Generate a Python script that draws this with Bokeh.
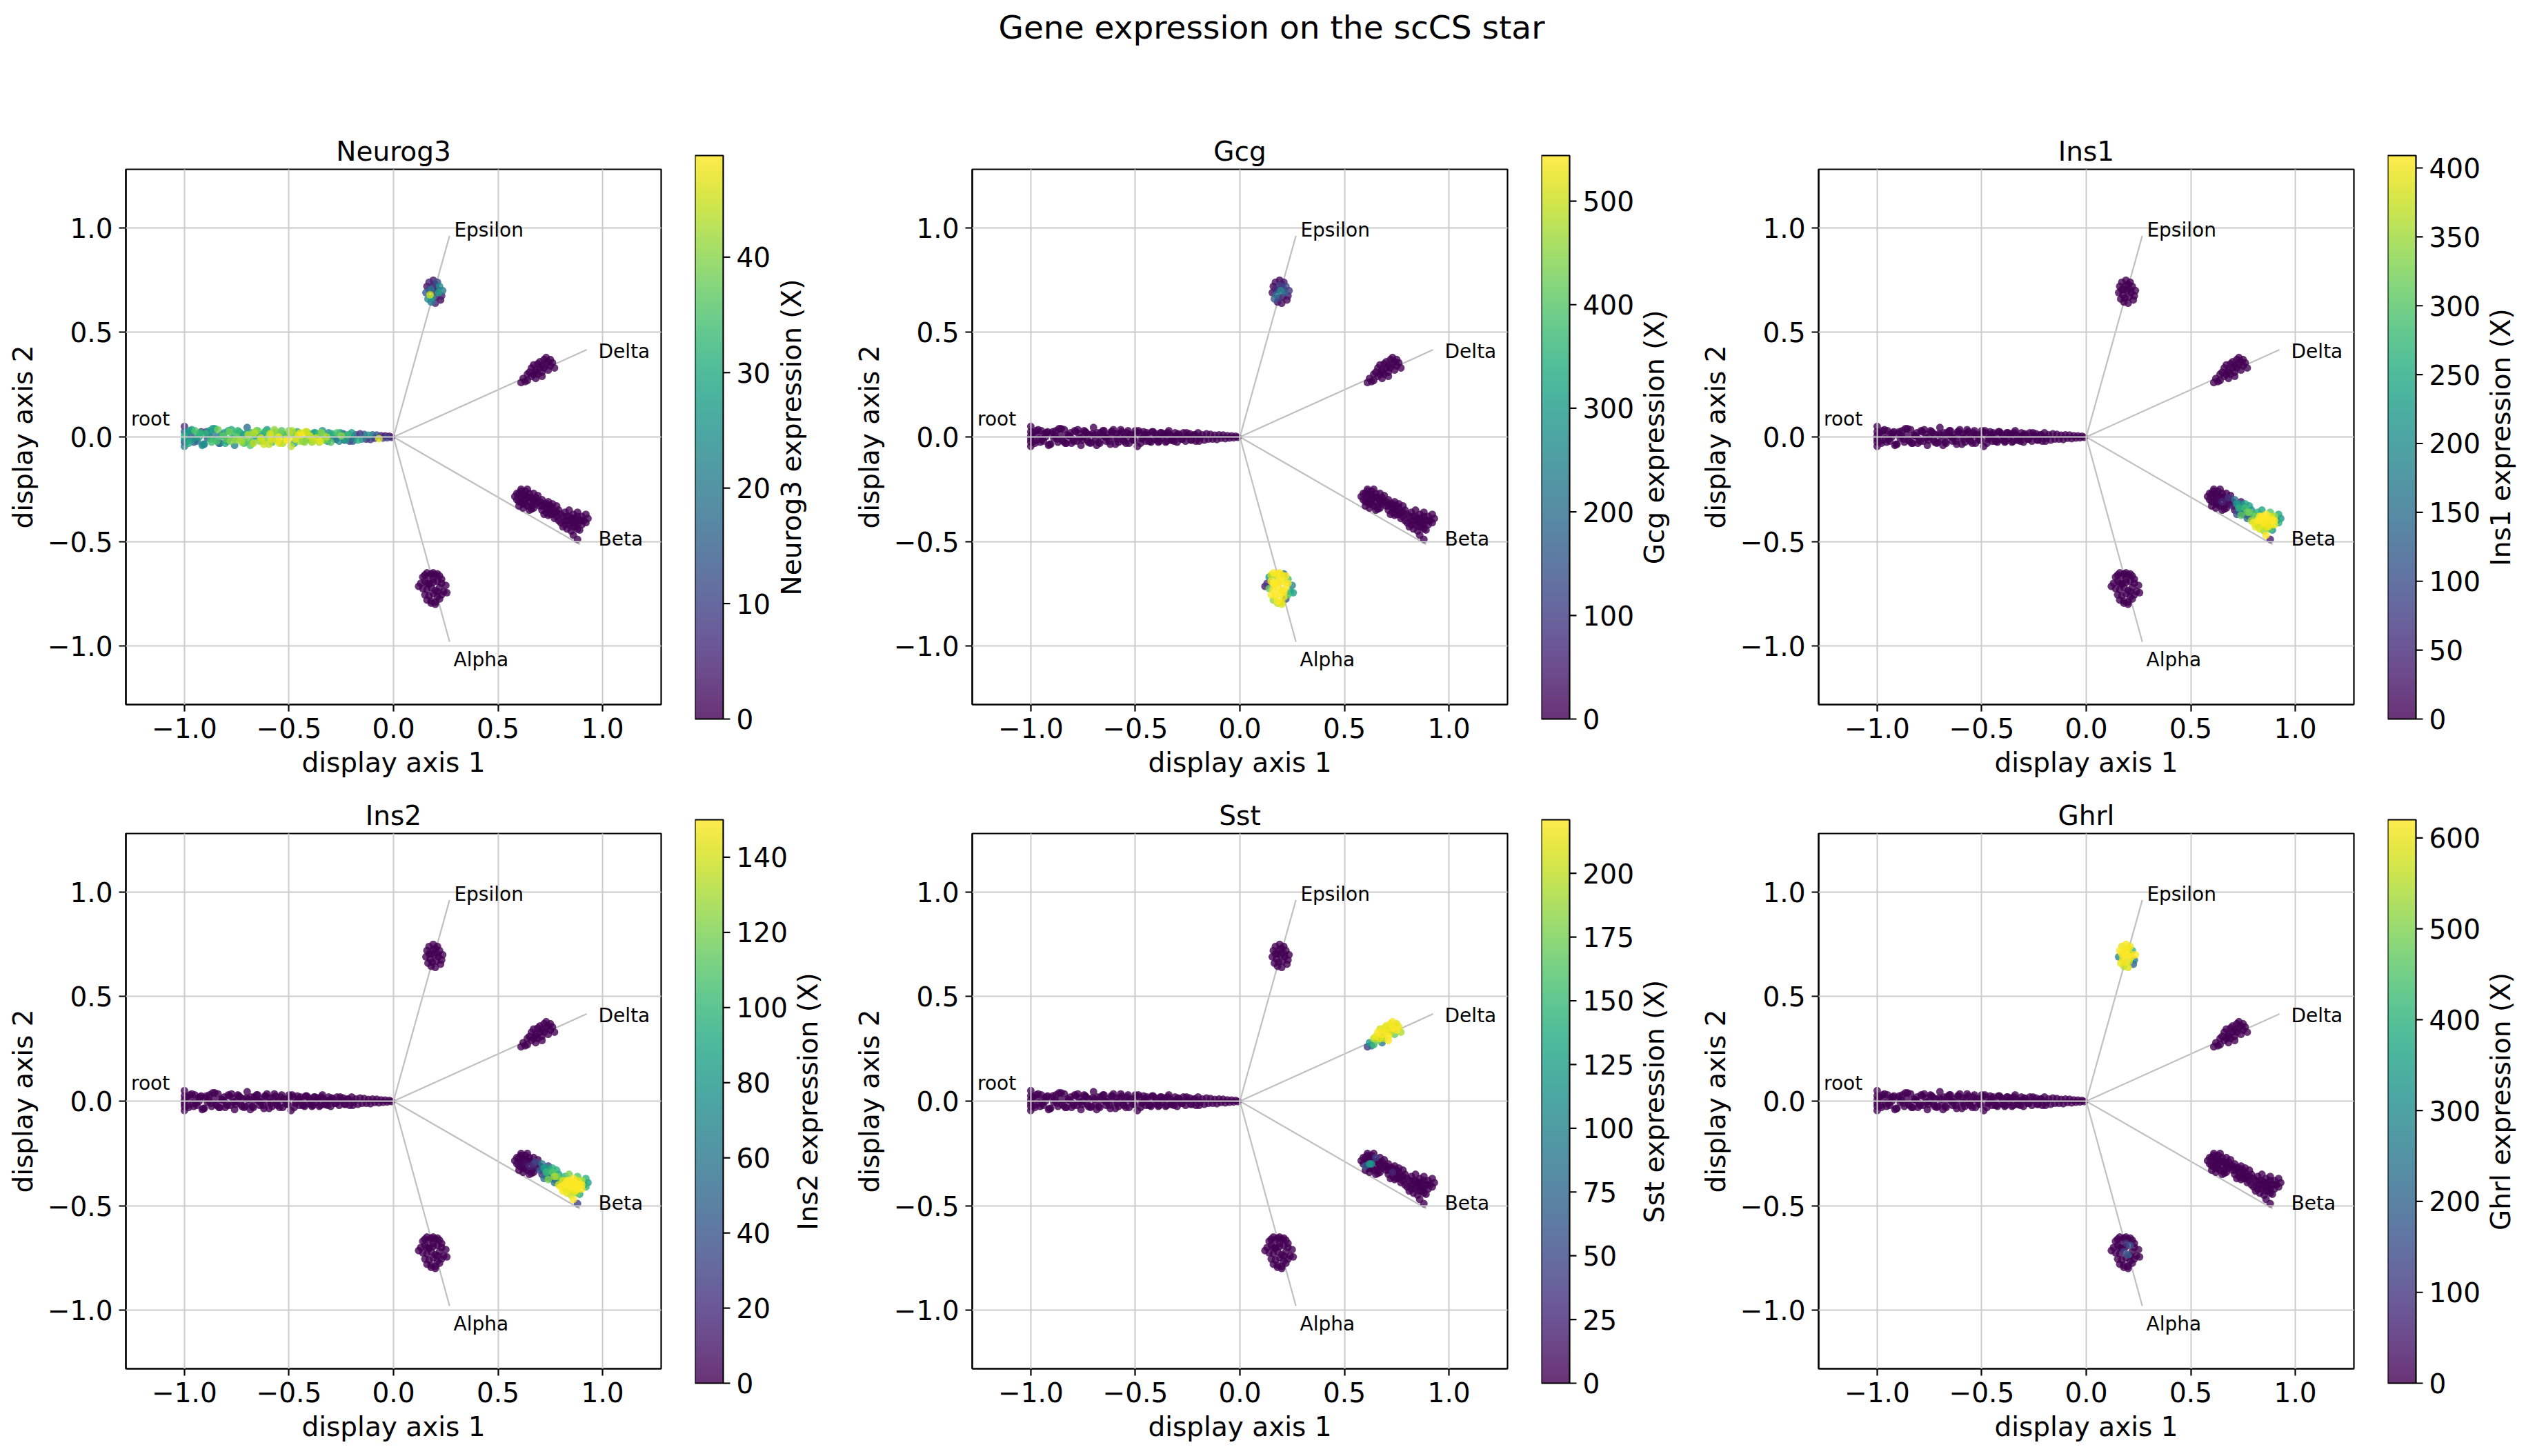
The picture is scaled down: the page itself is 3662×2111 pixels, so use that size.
import math
import numpy as np
from bokeh.core.properties import value
from bokeh.embed import file_html
from bokeh.layouts import column, row
from bokeh.models import (ColumnDataSource, CustomJSTickFormatter, FixedTicker,
                          Label, LinearColorMapper, Range1d)
from bokeh.palettes import Viridis256
from bokeh.plotting import figure
from bokeh.resources import INLINE

FONT = "DejaVu Sans"

# ---------------------------------------------------------------- cell layout
# root branch: a column of cells at -1, the main band, and two offset bands
ROOT_X = [
    -1.00, -1.00, -1.00, -1.00, -1.00, -1.00,
    -0.99, -0.98, -0.97, -0.96, -0.95, -0.94, -0.93, -0.92, -0.91, -0.90,
    -0.89, -0.88, -0.87, -0.86, -0.85, -0.84, -0.83, -0.82, -0.81, -0.80,
    -0.79, -0.78, -0.77, -0.76, -0.75, -0.74, -0.73, -0.72, -0.71, -0.70,
    -0.69, -0.68, -0.67, -0.66, -0.65, -0.64, -0.63, -0.62, -0.61, -0.60,
    -0.59, -0.58, -0.57, -0.56, -0.55, -0.54, -0.53, -0.52, -0.51, -0.50,
    -0.49, -0.48, -0.47, -0.46, -0.45, -0.44, -0.43, -0.42, -0.41, -0.40,
    -0.39, -0.38, -0.37, -0.36, -0.35, -0.34, -0.33, -0.32, -0.31, -0.30,
    -0.29, -0.28, -0.27, -0.26, -0.25, -0.24, -0.23, -0.22, -0.21, -0.20,
    -0.19, -0.18, -0.17, -0.16, -0.15, -0.14, -0.13, -0.12, -0.11, -0.10,
    -0.09, -0.08, -0.07, -0.06, -0.05, -0.04, -0.03, -0.02, -0.01,
    -0.985, -0.965, -0.945, -0.925, -0.905, -0.885, -0.865, -0.845, -0.825, -0.805,
    -0.785, -0.765, -0.745, -0.725, -0.705, -0.685, -0.665, -0.645, -0.625, -0.605,
    -0.585, -0.565, -0.545, -0.525, -0.505, -0.485, -0.465, -0.445, -0.425, -0.405,
    -0.385, -0.365, -0.345, -0.325, -0.305,
    -0.975, -0.955, -0.935, -0.915, -0.895, -0.875, -0.855, -0.835, -0.815, -0.795,
    -0.775, -0.755, -0.735, -0.715, -0.695, -0.675, -0.655, -0.635, -0.615, -0.595,
    -0.575, -0.555, -0.535, -0.515, -0.495, -0.475, -0.455, -0.435, -0.415, -0.395,
    -0.375, -0.355, -0.335, -0.315, -0.295, -0.275, -0.255, -0.235, -0.215, -0.195,
]
ROOT_Y = [
    -0.045, -0.025, -0.01, 0.005, 0.025, 0.05,
    0.02, -0.03, 0.01, -0.01, 0.03, -0.02, 0.00, 0.025, -0.035, 0.015,
    -0.005, 0.03, -0.025, 0.01, -0.015, 0.035, -0.03, 0.005, 0.02, -0.01,
    0.03, -0.02, 0.015, -0.04, 0.0, 0.025, -0.015, 0.01, -0.025, 0.045,
    -0.01, 0.02, -0.03, 0.005, 0.03, -0.02, 0.01, -0.035, 0.025, -0.005,
    0.015, -0.025, 0.035, -0.01, 0.0, 0.02, -0.03, 0.01, -0.015, 0.03,
    -0.045, 0.02, -0.01, 0.025, -0.02,
    0.01, -0.02, 0.025, -0.01, 0.005, -0.025, 0.02, -0.005, 0.015, -0.02,
    0.03, -0.015, 0.0, 0.02, -0.025, 0.01, -0.01, 0.02, -0.02, 0.005,
    0.015, -0.015, 0.01, -0.02, 0.02, -0.005, 0.01, -0.015, 0.015, -0.01,
    0.012, -0.01, 0.008, -0.012, 0.01, -0.006, 0.009, -0.008, 0.006, -0.005,
    0.005, -0.004, 0.003, -0.002,
    -0.02, 0.035, -0.01, 0.02, -0.035, 0.005, 0.04, -0.02, 0.01, -0.03,
    0.025, -0.005, 0.03, -0.025, 0.015, -0.04, 0.02, 0.0, -0.02, 0.035,
    -0.01, 0.025, -0.03, 0.01, -0.015, 0.03, -0.005, 0.02, -0.025, 0.015,
    -0.02, 0.01, 0.02, -0.015, 0.005,
    0.03, -0.025, 0.015, -0.04, 0.025, -0.01, 0.04, -0.03, 0.005, -0.02,
    0.035, -0.015, 0.02, -0.03, 0.01, -0.025, 0.03, -0.005, 0.025, -0.035,
    0.015, -0.02, 0.03, -0.01, 0.02, -0.03, 0.01, -0.02, 0.025, -0.015,
    0.02, -0.025, 0.01, -0.02, 0.015, -0.01, 0.02, -0.015, 0.01, -0.02,
]

EPS_X = [0.16, 0.17, 0.18, 0.19, 0.20, 0.21, 0.22, 0.235, 0.155, 0.175, 0.195,
         0.215, 0.23, 0.165, 0.185, 0.205, 0.225, 0.17, 0.19, 0.21, 0.18, 0.20]
EPS_Y = [0.72, 0.74, 0.705, 0.75, 0.73, 0.74, 0.72, 0.70, 0.69, 0.68, 0.70,
         0.69, 0.675, 0.66, 0.665, 0.67, 0.655, 0.705, 0.725, 0.705, 0.645, 0.64]

DELTA_X = [0.61, 0.62, 0.63, 0.64, 0.64, 0.65, 0.66, 0.66, 0.67, 0.67,
           0.68, 0.68, 0.69, 0.69, 0.70, 0.70, 0.71, 0.71, 0.72, 0.72,
           0.73, 0.73, 0.74, 0.74, 0.75, 0.75, 0.76, 0.77, 0.68, 0.71]
DELTA_Y = [0.26, 0.28, 0.265, 0.30, 0.27, 0.31, 0.29, 0.33, 0.30, 0.345,
           0.28, 0.32, 0.35, 0.30, 0.33, 0.36, 0.31, 0.34, 0.37, 0.33,
           0.35, 0.38, 0.36, 0.32, 0.37, 0.34, 0.355, 0.33, 0.31, 0.29]

# beta cells: upper-left blob, middle, lower-right blob, then extra fill cells
BETA_X = [
    0.58, 0.59, 0.60, 0.60, 0.61, 0.61, 0.62, 0.62, 0.63, 0.63, 0.64, 0.64, 0.65,
    0.65, 0.66, 0.66, 0.67, 0.67, 0.68, 0.68, 0.69, 0.62, 0.60, 0.64, 0.66,
    0.70, 0.71, 0.71, 0.72, 0.73, 0.73, 0.74, 0.74, 0.75, 0.75,
    0.76, 0.76, 0.77, 0.77, 0.78, 0.78, 0.79, 0.79, 0.80, 0.72,
    0.80, 0.81, 0.81, 0.82, 0.82, 0.83, 0.83, 0.84, 0.84, 0.85, 0.85, 0.86, 0.86,
    0.87, 0.87, 0.88, 0.88, 0.89, 0.89, 0.90, 0.90, 0.91, 0.92, 0.86, 0.88,
    0.59, 0.61, 0.63, 0.63, 0.65, 0.65, 0.67, 0.69, 0.70, 0.61, 0.67, 0.62,
    0.73, 0.75, 0.76, 0.78, 0.74, 0.71,
    0.83, 0.85, 0.86, 0.87, 0.88, 0.84, 0.86, 0.88, 0.90, 0.92, 0.93, 0.82,
]
BETA_Y = [
    -0.285, -0.30, -0.27, -0.31, -0.29, -0.25, -0.32, -0.28, -0.26, -0.30, -0.33, -0.285, -0.27,
    -0.31, -0.29, -0.33, -0.30, -0.27, -0.32, -0.29, -0.31, -0.34, -0.33, -0.25, -0.345,
    -0.33, -0.30, -0.35, -0.32, -0.36, -0.34, -0.31, -0.375, -0.35, -0.33,
    -0.37, -0.34, -0.39, -0.36, -0.33, -0.38, -0.35, -0.40, -0.37, -0.37,
    -0.41, -0.38, -0.43, -0.36, -0.40, -0.44, -0.38, -0.42, -0.35, -0.39, -0.45, -0.37, -0.41,
    -0.43, -0.39, -0.36, -0.42, -0.40, -0.445, -0.38, -0.42, -0.40, -0.37, -0.47, -0.49,
    -0.27, -0.31, -0.28, -0.32, -0.29, -0.35, -0.31, -0.28, -0.31, -0.26, -0.34, -0.30,
    -0.32, -0.37, -0.32, -0.36, -0.34, -0.33,
    -0.40, -0.41, -0.39, -0.41, -0.38, -0.38, -0.43, -0.44, -0.40, -0.41, -0.39, -0.42,
]

ALPHA_X = [0.14, 0.15, 0.16, 0.17, 0.18, 0.19, 0.20, 0.21, 0.22, 0.23,
           0.13, 0.15, 0.17, 0.19, 0.21, 0.23, 0.25, 0.14, 0.16, 0.18,
           0.20, 0.22, 0.24, 0.15, 0.17, 0.19, 0.21, 0.23, 0.16, 0.18,
           0.20, 0.22, 0.17, 0.19, 0.21, 0.12, 0.255, 0.18, 0.20, 0.16]
ALPHA_Y = [-0.67, -0.66, -0.65, -0.665, -0.655, -0.65, -0.66, -0.655, -0.665, -0.68,
           -0.70, -0.69, -0.70, -0.695, -0.69, -0.70, -0.71, -0.725, -0.73, -0.72,
           -0.735, -0.72, -0.74, -0.755, -0.76, -0.75, -0.765, -0.755, -0.78, -0.785,
           -0.79, -0.775, -0.705, -0.68, -0.74, -0.715, -0.745, -0.795, -0.80, -0.70]

# ---------------------------------------------------------------- star edges
BRANCH_NAMES = ["root", "Epsilon", "Delta", "Beta", "Alpha"]
EDGE_START_X = [0.0, 0.0, 0.0, 0.0, 0.0]
EDGE_START_Y = [0.0, 0.0, 0.0, 0.0, 0.0]
EDGE_END_X = [-1.0, 0.268, 0.924, 0.891, 0.268]
EDGE_END_Y = [0.0, 0.962, 0.417, -0.514, -0.98]
NAME_X = [-1.255, 0.29, 0.98, 0.98, 0.287]
NAME_Y = [0.086, 0.99, 0.41, -0.489, -1.066]

# ---------------------------------------------------------------- expression
NEUROG3_ROOT = [
    20, 10, 25, 30, 15, 5,
    22, 30, 12, 26, 35, 18, 28, 8, 24, 32,
    15, 27, 34, 20, 29, 38, 10, 31, 25, 36,
    28, 40, 33, 22, 37, 30, 42, 26, 35, 18,
    38, 31, 44, 27, 36, 40, 24, 45, 33, 39,
    46, 35, 41, 29, 47, 38, 43, 32, 48.8, 40,
    44, 36, 47, 30, 42, 48, 34, 45, 39, 46,
    41, 28, 45, 33, 47, 25, 38, 43, 22, 36,
    30, 18, 35, 24, 40, 12, 28, 33, 8, 26,
    20, 10, 30, 6, 22, 14, 4, 25, 8, 16,
    5, 12, 46, 3, 8, 2, 10, 1, 4,
    18, 25, 9, 32, 21, 14, 28, 35, 16, 30,
    38, 24, 33, 41, 29, 36, 44, 31, 42, 27,
    47, 39, 45, 34, 48, 43, 37, 46, 41, 30,
    44, 26, 40, 35, 19,
    26, 14, 31, 22, 9, 33, 27, 19, 36, 24,
    30, 41, 25, 35, 43, 28, 39, 46, 32, 44,
    40, 48, 36, 45, 42, 29, 47, 38, 44, 33,
    26, 42, 35, 20, 31, 15, 27, 10, 23, 14,
]
NEUROG3_EPS = [2, 5, 18, 3, 8, 12, 24, 20, 14, 45, 6, 28, 4, 22, 26, 3, 1, 10, 4, 2, 20, 5]

GCG_EPS = [10, 20, 60, 5, 30, 40, 120, 80, 15, 200, 250, 180, 30, 150, 90, 20, 10, 60, 100, 40, 30, 15]
GCG_ALPHA = [300, 500, 544, 480, 530, 540, 520, 200, 544, 380,
             80, 540, 544, 544, 530, 544, 250, 420, 544, 544,
             544, 540, 320, 544, 544, 544, 530, 400, 460, 544,
             520, 150, 544, 544, 544, 40, 300, 490, 520, 544]

INS1_BETA = [0, 2, 0, 5, 1, 0, 3, 0, 0, 8, 2, 0, 1, 40, 4, 0, 10, 0, 3, 60, 6, 0, 0, 2, 5,
             30, 150, 10, 220, 90, 260, 20, 300, 180, 120,
             50, 280, 140, 310, 230, 60, 200, 350, 270, 100,
             400, 320, 390, 260, 405, 380, 409, 395, 240, 400, 340, 409, 402,
             398, 405, 300, 400, 408, 210, 350, 395, 180, 250, 409, 30,
             0, 0, 2, 0, 1, 0, 15, 0, 5, 0, 0, 0,
             180, 90, 240, 320, 150, 40,
             409, 405, 409, 400, 390, 409, 380, 300, 408, 260, 220, 330]

INS2_BETA = [0, 1, 0, 2, 0, 0, 1, 0, 0, 5, 1, 0, 0, 15, 2, 0, 20, 0, 1, 30, 3, 0, 0, 1, 2,
             40, 60, 20, 80, 50, 100, 30, 120, 70, 90,
             45, 110, 60, 130, 95, 40, 85, 140, 105, 55,
             150, 140, 148, 100, 150, 145, 150, 147, 120, 150, 135, 150, 149,
             146, 150, 110, 150, 150, 90, 130, 148, 70, 95, 150, 30,
             0, 0, 1, 0, 0, 0, 10, 0, 2, 0, 0, 0,
             75, 50, 95, 120, 70, 25,
             150, 150, 149, 150, 145, 150, 140, 120, 150, 100, 85, 130]

SST_DELTA = [40, 120, 80, 200, 150, 215, 180, 220, 210, 205,
             90, 220, 215, 200, 218, 210, 221, 190, 215, 205,
             220, 218, 200, 170, 210, 220, 215, 195, 160, 220]
SST_BETA = [0, 0, 0, 60, 0, 0, 0, 0, 0, 110, 0, 0, 40, 0, 0, 0, 0, 0, 0, 0, 0, 0, 0, 0, 0,
            0, 0, 0, 0, 0, 20, 0, 0, 0, 0, 0, 0, 0, 0, 0, 0, 0, 0, 0, 0,
            0, 0, 0, 0, 0, 0, 0, 0, 0, 0, 0, 0, 0, 0, 0, 0, 0, 0, 0, 0, 0, 0, 0, 0, 0,
            0, 0, 0, 0, 0, 0, 0, 0, 0, 0, 0, 120,
            0, 0, 0, 0, 0, 0,
            0, 0, 0, 0, 0, 0, 0, 0, 0, 0, 0, 0]

GHRL_EPS = [620, 600, 580, 615, 590, 610, 400, 620, 300, 605, 620,
            615, 250, 600, 610, 580, 200, 620, 615, 600, 550, 590]
GHRL_ALPHA = [0, 0, 0, 0, 0, 0, 0, 0, 0, 0,
              0, 0, 0, 0, 150, 0, 0, 0, 0, 120,
              180, 0, 0, 0, 0, 0, 0, 0, 0, 0,
              0, 0, 0, 90, 0, 0, 0, 0, 0, 0]


def silent(n):
    """Cells of a branch where the gene is not detected."""
    return [0.0] * n


N_ROOT, N_EPS, N_DELTA = len(ROOT_X), len(EPS_X), len(DELTA_X)
N_BETA, N_ALPHA = len(BETA_X), len(ALPHA_X)

CELL_X = ROOT_X + EPS_X + DELTA_X + BETA_X + ALPHA_X
CELL_Y = ROOT_Y + EPS_Y + DELTA_Y + BETA_Y + ALPHA_Y

GENES = ["Neurog3", "Gcg", "Ins1", "Ins2", "Sst", "Ghrl"]
EXPRESSION = {
    "Neurog3": NEUROG3_ROOT + NEUROG3_EPS + silent(N_DELTA) + silent(N_BETA) + silent(N_ALPHA),
    "Gcg": silent(N_ROOT) + GCG_EPS + silent(N_DELTA) + silent(N_BETA) + GCG_ALPHA,
    "Ins1": silent(N_ROOT) + silent(N_EPS) + silent(N_DELTA) + INS1_BETA + silent(N_ALPHA),
    "Ins2": silent(N_ROOT) + silent(N_EPS) + silent(N_DELTA) + INS2_BETA + silent(N_ALPHA),
    "Sst": silent(N_ROOT) + silent(N_EPS) + SST_DELTA + SST_BETA + silent(N_ALPHA),
    "Ghrl": silent(N_ROOT) + GHRL_EPS + silent(N_DELTA) + silent(N_BETA) + GHRL_ALPHA,
}
CBAR_TICKS = {
    "Neurog3": [0, 10, 20, 30, 40],
    "Gcg": [0, 100, 200, 300, 400, 500],
    "Ins1": [0, 50, 100, 150, 200, 250, 300, 350, 400],
    "Ins2": [0, 20, 40, 60, 80, 100, 120, 140],
    "Sst": [0, 25, 50, 75, 100, 125, 150, 175, 200],
    "Ghrl": [0, 100, 200, 300, 400, 500, 600],
}
AXIS_TICKS = [-1.0, -0.5, 0.0, 0.5, 1.0]

# ---------------------------------------------------------------- styling
FRAME = 776             # scatter frame, px
BAR_W, BAR_H = 41, 817  # colour bar, px
BAR_PAD = 30            # room above/below the bar for its end labels, px
CB_LEFT, CB_RIGHT = 25, 157
LIM = 1.28
TICK_PX = "39px"
DIGIT_W = 24.8
BLACK = "black"


def free_frame(fig):
    """Let a figure keep its own frame edges inside a row."""
    if "frame_align" in fig.properties():
        fig.frame_align = False


def style_axis(ax):
    ax.axis_line_color = BLACK
    ax.axis_line_width = 2.2
    ax.major_tick_line_color = BLACK
    ax.major_tick_line_width = 2.2
    ax.major_tick_out = 10
    ax.major_tick_in = 0
    ax.minor_tick_line_color = None
    ax.major_label_text_font = FONT
    ax.major_label_text_font_size = TICK_PX
    ax.major_label_text_color = BLACK
    ax.major_label_standoff = 9
    ax.axis_label_text_font = FONT
    ax.axis_label_text_font_size = TICK_PX
    ax.axis_label_text_font_style = "normal"
    ax.axis_label_text_color = BLACK
    ax.axis_label_standoff = 10


signed_fmt = CustomJSTickFormatter(
    code="return (tick < 0 ? '\\u2212' : '') + Math.abs(tick).toFixed(1);")


def scatter_panel(gene, left, top, bottom):
    vals = np.asarray(EXPRESSION[gene], dtype=float)
    order = np.argsort(vals, kind="stable")
    src = ColumnDataSource(dict(x=np.asarray(CELL_X)[order],
                                y=np.asarray(CELL_Y)[order],
                                v=vals[order]))
    mapper = LinearColorMapper(palette=Viridis256, low=0, high=float(vals.max()))

    p = figure(frame_width=FRAME, frame_height=FRAME,
               x_range=Range1d(-LIM, LIM), y_range=Range1d(-LIM, LIM),
               min_border_left=left, min_border_right=24,
               min_border_top=top, min_border_bottom=bottom,
               output_backend="svg", toolbar_location=None, title=gene)
    free_frame(p)
    p.title.text_font = FONT
    p.title.text_font_size = TICK_PX
    p.title.text_font_style = "normal"
    p.title.text_color = BLACK
    p.title.align = "center"
    p.title.standoff = 8
    p.outline_line_color = BLACK
    p.outline_line_width = 2.2

    for g in (p.xgrid[0], p.ygrid[0]):
        g.ticker = FixedTicker(ticks=AXIS_TICKS)
        g.grid_line_color = "#cccccc"
        g.grid_line_width = 2
        g.level = "annotation"

    p.segment(x0=EDGE_START_X, y0=EDGE_START_Y, x1=EDGE_END_X, y1=EDGE_END_Y,
              line_color="#c0c0c0", line_width=2.2)
    p.scatter("x", "y", source=src, size=11, line_color=None,
              fill_color={"field": "v", "transform": mapper}, fill_alpha=0.8)
    p.text(x=NAME_X, y=NAME_Y, text=BRANCH_NAMES, text_font=value(FONT),
           text_font_size="28px", text_color=BLACK, text_align="left",
           text_baseline="alphabetic", level="overlay")

    for ax in (p.xaxis[0], p.yaxis[0]):
        style_axis(ax)
        ax.ticker = FixedTicker(ticks=AXIS_TICKS)
        ax.formatter = signed_fmt
    p.xaxis.axis_label = "display axis 1"
    p.yaxis.axis_label = "display axis 2"
    return p


def colorbar_panel(gene, bar_top, bar_bottom):
    """Colour bar drawn in its own frame: one x unit is the bar width,
    the y axis is the expression scale, with room for ticks and a rotated label."""
    vmax = float(max(EXPRESSION[gene]))
    ticks = CBAR_TICKS[gene]
    mapper = LinearColorMapper(palette=Viridis256, low=0, high=vmax)
    px_x = 1.0 / BAR_W
    px_y = vmax / BAR_H
    frame_w = BAR_W + CB_RIGHT
    c = figure(frame_width=frame_w, frame_height=BAR_H + 2 * BAR_PAD,
               x_range=Range1d(0, frame_w * px_x),
               y_range=Range1d(-BAR_PAD * px_y, vmax + BAR_PAD * px_y),
               min_border_left=CB_LEFT, min_border_right=0,
               min_border_top=bar_top - BAR_PAD,
               min_border_bottom=bar_bottom - BAR_PAD,
               x_axis_location=None, y_axis_location=None, title=None,
               outline_line_color=None,
               output_backend="svg", toolbar_location=None)
    free_frame(c)
    c.grid.visible = False

    ramp = np.linspace(0, vmax, 256).reshape(256, 1)
    c.image(image=[ramp], x=0, y=0, dw=1, dh=vmax, color_mapper=mapper,
            global_alpha=0.8)
    c.quad(left=[0], right=[1], bottom=[0], top=[vmax], fill_color=None,
           line_color=BLACK, line_width=2.2)

    n = len(ticks)
    c.segment(x0=[1.0] * n, x1=[1.0 + 10 * px_x] * n, y0=ticks, y1=ticks,
              line_color=BLACK, line_width=2.2)
    c.text(x=[1.0 + 19 * px_x] * n, y=ticks, text=[str(t) for t in ticks],
           text_font=value(FONT), text_font_size=TICK_PX, text_color=BLACK,
           text_align="left", text_baseline="middle")

    digits = max(len(str(t)) for t in ticks)
    shift = 10 + 9 + digits * DIGIT_W + 10 + 20
    c.text(x=[1.0 + shift * px_x], y=[vmax / 2], text=[f"{gene} expression (X)"],
           angle=math.pi / 2, text_font=value(FONT), text_font_size=TICK_PX,
           text_color=BLACK, text_align="center", text_baseline="middle")
    return c


title_fig = figure(width=3662, height=180, x_range=Range1d(0, 3662),
                   y_range=Range1d(0, 180), x_axis_location=None,
                   y_axis_location=None, min_border=0, outline_line_color=None,
                   output_backend="svg", toolbar_location=None)
free_frame(title_fig)
title_fig.grid.visible = False
title_fig.add_layout(Label(x=1843, y=141, text="Gene expression on the scCS star",
                           text_align="center", text_baseline="alphabetic",
                           text_font=FONT, text_font_size="47px", text_color=BLACK))

rows = []
for r, (top, ctop, bottom, cbottom) in enumerate([(65, 45, 129, 108),
                                                  (58, 38, 127, 106)]):
    children = []
    for k in range(3):
        gene = GENES[3 * r + k]
        left = 182 if k == 0 else 204
        children.append(scatter_panel(gene, left, top, bottom))
        children.append(colorbar_panel(gene, ctop, cbottom))
    rows.append(row(*children))

layout = column(title_fig, *rows)

with open("out.html", "w") as fh:
    fh.write(file_html(layout, INLINE, title="Gene expression on the scCS star"))
